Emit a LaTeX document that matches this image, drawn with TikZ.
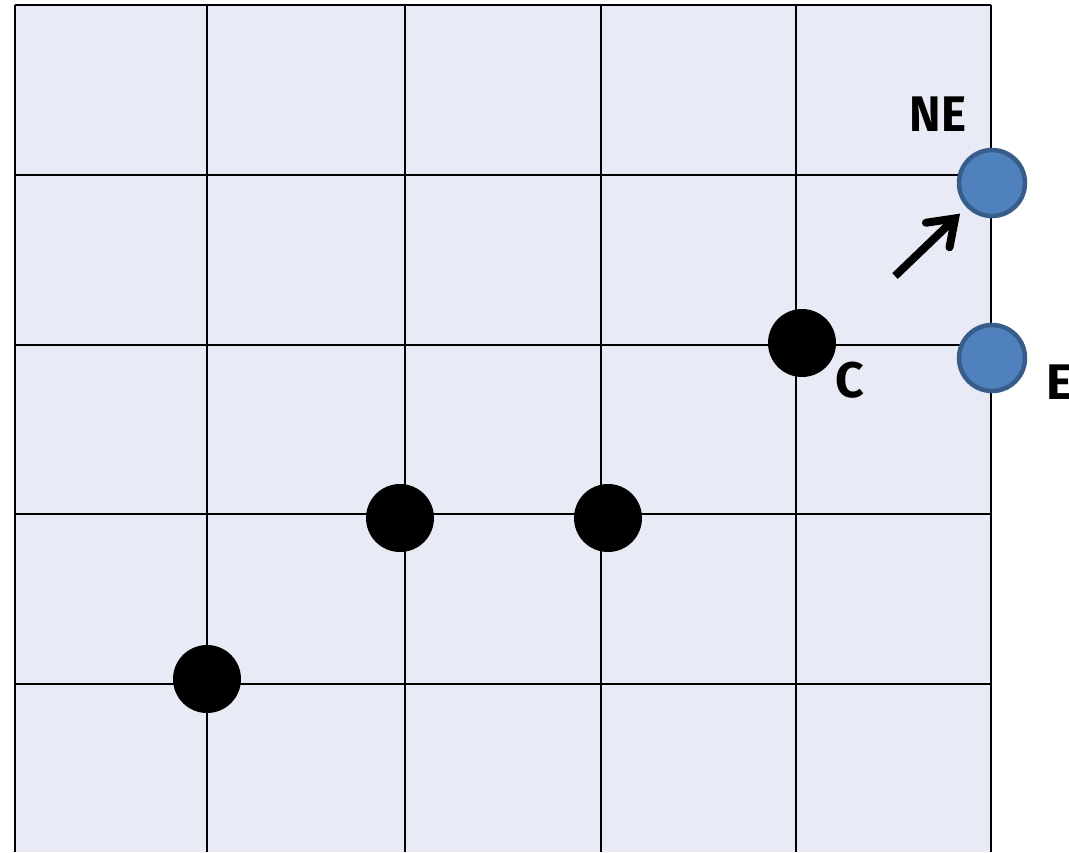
\documentclass[tikz,border=0pt]{standalone}
\usepackage{fontspec}
\setmainfont{Fira Sans}
\usetikzlibrary{arrows.meta}
\definecolor{bgc}{HTML}{E8EBF5}
\definecolor{bluefill}{HTML}{4F81BD}
\definecolor{blueedge}{HTML}{385D8A}
\begin{document}
\begin{tikzpicture}[x=1pt,y=-1pt,
  gridline/.style={line width=2.6pt,black},
  blackdot/.style={circle,fill=black,minimum size=68pt,inner sep=0pt},
  bluedot/.style={circle,fill=bluefill,draw=blueedge,line width=4.5pt,minimum size=66pt,inner sep=0pt},
  lbl/.style={font=\fontsize{50}{52}\selectfont\bfseries,inner sep=0pt}]
\useasboundingbox (0,0) rectangle (1069,852);
\fill[bgc] (15,5) rectangle (991,852);
\foreach \x in {15,207,405,601,796,991} \draw[gridline] (\x,5) -- (\x,852);
\foreach \y in {5,175,345,514,684} \draw[gridline] (15,\y) -- (991,\y);
\node[blackdot] (d1) at (207,679) {};
\node[blackdot] (d2) at (400,518) {};
\node[blackdot] (d3) at (608,518) {};
\node[blackdot] (c) at (802,343) {};
\node[bluedot] (ne) at (992,183) {};
\node[bluedot] (e) at (992,358) {};
\node[lbl] (lne) at (938,114) {\scalebox{0.95}[1]{NE}};
\node[lbl] (lc) at (850,380) {C};
\node[lbl,anchor=west] (le) at (1046,382) {E};
\coordinate (as) at (895,276);
\draw[line width=8pt,shorten >=9pt,-{Straight Barb[length=24pt,width=34pt,line cap=round]}] (as) -- (ne);
\end{tikzpicture}
\end{document}
